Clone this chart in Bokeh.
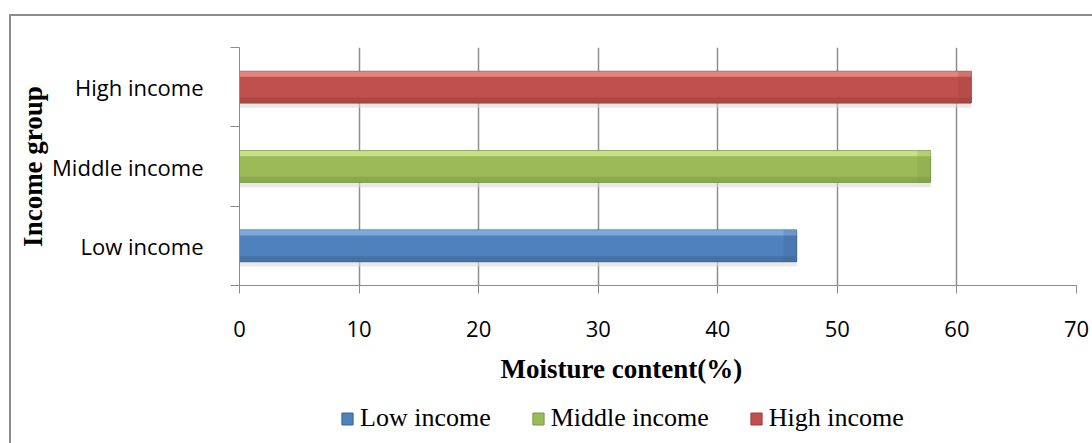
import numpy as np
from bokeh.plotting import figure
from bokeh.layouts import column
from bokeh.models import (ColumnDataSource, FixedTicker, Legend, LegendItem, Title)
from bokeh.embed import file_html
from bokeh.resources import INLINE

# Moisture content by income group
groups = ["Low income", "Middle income", "High income"]
moisture = [46.6, 57.8, 61.2]
x_ticks = [0, 10, 20, 30, 40, 50, 60, 70]

base_colors = ["#4F81BD", "#9BBB59", "#C0504D"]
light_colors = ["#8DB6E6", "#D2EE98", "#EE9593"]
dark_colors = ["#3A6391", "#7A9644", "#99403D"]

ypos = np.arange(len(groups)) + 0.5
bar_h = 0.40

src = ColumnDataSource(dict(
    y=ypos, right=moisture, group=groups,
    base=base_colors, light=light_colors, dark=dark_colors,
    y_top=ypos + bar_h / 2 - 0.035,
    y_bot=ypos - bar_h / 2 + 0.035,
    y_shadow=ypos - bar_h / 2 - 0.03,
    cap_left=np.array(moisture) - 1.1,
))

GRID = "#8C8C8C"
W = 1081

p = figure(width=W, height=385, x_range=(0, 70), y_range=(0, 3),
           output_backend="svg", toolbar_location=None,
           min_border_left=228, min_border_right=16,
           min_border_top=31, min_border_bottom=116)
p.outline_line_color = None
p.background_fill_color = "white"

# soft drop shadow under each bar
p.hbar(y="y_shadow", left=0, right="right", height=0.06, source=src,
       fill_color="#D9D9D9", fill_alpha=0.6, line_color=None)

bars = p.hbar(y="y", left=0, right="right", height=bar_h, source=src,
              fill_color="base", line_color="dark", line_width=1)
# bevel highlights and shading
p.hbar(y="y_top", left=0, right="right", height=0.07, source=src,
       fill_color="light", fill_alpha=0.75, line_color=None)
p.hbar(y="y_bot", left=0, right="right", height=0.07, source=src,
       fill_color="dark", fill_alpha=0.5, line_color=None)
p.hbar(y="y", left="cap_left", right="right", height=bar_h, source=src,
       fill_color="dark", fill_alpha=0.25, line_color=None)

# x axis
xa = p.xaxis[0]
xa.ticker = FixedTicker(ticks=x_ticks, minor_ticks=[])
xa.axis_line_color = GRID
xa.major_tick_line_color = GRID
xa.major_tick_in = 0
xa.major_tick_out = 8
xa.major_label_standoff = 27
xa.major_label_text_font = "Open Sans"
xa.major_label_text_font_size = "22px"
xa.major_label_text_color = "black"

# y axis: labels at the bar centres, ticks at the category boundaries
ya = p.yaxis[0]
ya.ticker = FixedTicker(ticks=list(ypos), minor_ticks=list(range(len(groups) + 1)))
ya.major_label_overrides = {float(y): g for y, g in zip(ypos, groups)}
ya.axis_line_color = GRID
ya.major_tick_line_color = None
ya.major_tick_in = 0
ya.major_tick_out = 0
ya.minor_tick_line_color = GRID
ya.minor_tick_in = 0
ya.minor_tick_out = 9
ya.major_label_standoff = 27
ya.major_label_text_font = "Open Sans"
ya.major_label_text_font_size = "22px"
ya.major_label_text_color = "black"

p.ygrid.grid_line_color = None
p.xgrid.ticker = FixedTicker(ticks=x_ticks)
p.xgrid.grid_line_color = GRID
p.xgrid.grid_line_width = 1.5

# axis titles
p.add_layout(Title(text="Moisture content(%)", align="left", offset=261,
                   text_font="Liberation Serif", text_font_style="bold",
                   text_font_size="27px", text_color="black", standoff=24), "below")
p.add_layout(Title(text="Income group", align="center",
                   text_font="Liberation Serif", text_font_style="bold",
                   text_font_size="27px", text_color="black", standoff=4), "left")

# legend strip underneath
lf = figure(width=W, height=42, x_range=(0, 1), y_range=(100, 101),
            output_backend="svg", toolbar_location=None,
            min_border=0, x_axis_type=None, y_axis_type=None)
lf.outline_line_color = None
lf.grid.grid_line_color = None
swatches = lf.hbar(y="y", left=0, right="right", height=bar_h, source=src,
                   fill_color="base", line_color="dark", line_width=1)
legend = Legend(items=[LegendItem(label=g, renderers=[swatches], index=i)
                       for i, g in enumerate(groups)],
                orientation="horizontal", location=(101, 10),
                padding=0, margin=0, spacing=40,
                glyph_width=14, glyph_height=15, label_standoff=6,
                label_text_font="Liberation Serif", label_text_font_size="26px",
                label_text_color="black",
                border_line_color=None, background_fill_alpha=0)
lf.add_layout(legend, "center")

page = column(p, lf, spacing=0)
page.styles = {"margin-left": "9px", "margin-top": "14px",
               "border-left": "2px solid #8C8C8C", "border-top": "2px solid #8C8C8C"}

open("out.html", "w").write(file_html(page, INLINE))
